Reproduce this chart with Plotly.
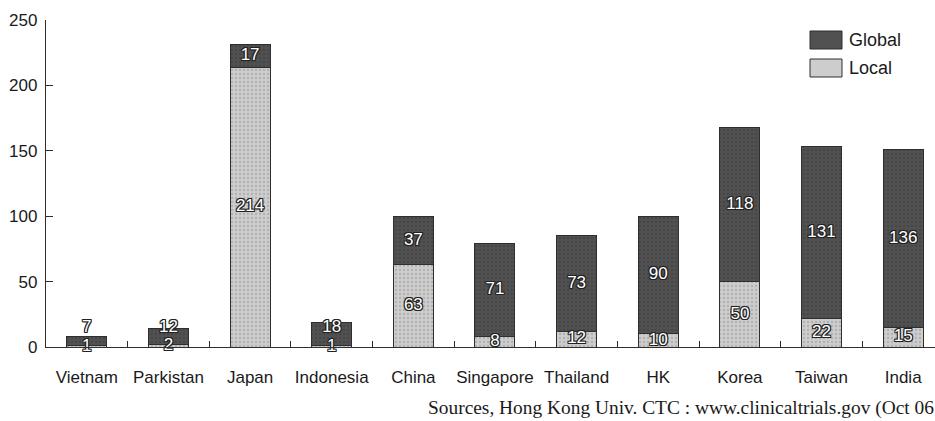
import plotly.graph_objects as go

# Clinical trials by country, split into local and global studies
countries = ["Vietnam", "Parkistan", "Japan", "Indonesia", "China", "Singapore",
             "Thailand", "HK", "Korea", "Taiwan", "India"]
local_trials = [1, 2, 214, 1, 63, 8, 12, 10, 50, 22, 15]
global_trials = [7, 12, 17, 18, 37, 71, 73, 90, 118, 131, 136]
y_ticks = [0, 50, 100, 150, 200, 250]

source_note = "Sources, Hong Kong Univ. CTC : www.clinicaltrials.gov (Oct 06"

W, H = 935, 421
M_L, M_R, M_T, M_B = 46, 0, 20, 74
PW, PH = W - M_L - M_R, H - M_T - M_B

def px_x(px):
    return (px - M_L) / PW

def px_y(py):
    return (H - M_B - py) / PH

LOCAL_COLOR = "#cdcdcd"
GLOBAL_COLOR = "#515151"
EDGE = "#2e2e2e"
FONT = "Liberation Sans, Arial, sans-serif"
OUTLINE = ("1px 1px 0 #222, -1px -1px 0 #222, 1px -1px 0 #222, -1px 1px 0 #222, "
           "0 1px 0 #222, 0 -1px 0 #222, 1px 0 0 #222, -1px 0 0 #222")

fig = go.Figure()

fig.add_trace(go.Bar(
    x=countries, y=local_trials, name="Local", width=0.49,
    marker=dict(color=LOCAL_COLOR, line=dict(color=EDGE, width=1),
                pattern=dict(shape=".", fgcolor="#8f8f8f", size=4, solidity=0.25)),
    hoverinfo="skip", showlegend=False,
))
fig.add_trace(go.Bar(
    x=countries, y=global_trials, name="Global", width=0.49,
    marker=dict(color=GLOBAL_COLOR, line=dict(color=EDGE, width=1),
                pattern=dict(shape=".", fgcolor="#3a3a3a", size=4, solidity=0.3)),
    hoverinfo="skip", showlegend=False,
))

# Value labels at the middle of each stacked segment; on very short bars the
# global label is lifted so it clears the local one
local_mid = [v / 2 for v in local_trials]
global_mid = [max(l + g / 2, l / 2 + 14) for l, g in zip(local_trials, global_trials)]
label_font = dict(family=FONT, size=17, color="white", shadow=OUTLINE)
fig.add_trace(go.Scatter(
    x=countries, y=local_mid, mode="text", text=[str(v) for v in local_trials],
    textfont=label_font, hoverinfo="skip", showlegend=False, cliponaxis=False,
))
fig.add_trace(go.Scatter(
    x=countries, y=global_mid, mode="text", text=[str(v) for v in global_trials],
    textfont=label_font, hoverinfo="skip", showlegend=False, cliponaxis=False,
))

# Legend drawn as swatches with labels
legend_items = [("Global", GLOBAL_COLOR, 31, 49), ("Local", LOCAL_COLOR, 59, 77)]
shapes = []
annotations = []
for name, color, top, bottom in legend_items:
    shapes.append(dict(type="rect", xref="paper", yref="paper",
                       x0=px_x(810), x1=px_x(842), y0=px_y(bottom), y1=px_y(top),
                       fillcolor=color, line=dict(color=EDGE, width=1)))
    annotations.append(dict(text=name, xref="paper", yref="paper",
                            x=px_x(847), y=px_y((top + bottom) / 2),
                            xanchor="left", yanchor="middle", showarrow=False,
                            font=dict(family=FONT, size=18, color="#1a1a1a")))

annotations.append(dict(text=source_note, xref="paper", yref="paper",
                        x=px_x(426), y=px_y(408), xanchor="left", yanchor="middle",
                        showarrow=False,
                        font=dict(family="Liberation Serif, Times New Roman, serif",
                                  size=19.4, color="#1a1a1a")))

fig.update_layout(
    barmode="stack",
    width=W, height=H,
    margin=dict(l=M_L, r=M_R, t=M_T, b=M_B, pad=0),
    paper_bgcolor="white", plot_bgcolor="white",
    font=dict(family=FONT, size=17, color="#1a1a1a"),
    shapes=shapes, annotations=annotations,
    showlegend=False,
)
fig.update_xaxes(
    type="category", range=[-0.5, 10.39],
    showline=True, linecolor=EDGE, linewidth=1.3,
    ticks="inside", tickson="boundaries", ticklen=6, tickcolor=EDGE, tickwidth=1,
    tickangle=0, tickfont=dict(size=17),
    ticklabelstandoff=14, showgrid=False, zeroline=False,
)
fig.update_yaxes(
    range=[0, 250], tickvals=y_ticks,
    showline=True, linecolor=EDGE, linewidth=1.3,
    ticks="inside", ticklen=7, tickcolor=EDGE, tickwidth=1,
    ticklabelstandoff=4, showgrid=False, zeroline=False,
)

fig.write_html("out.html")
